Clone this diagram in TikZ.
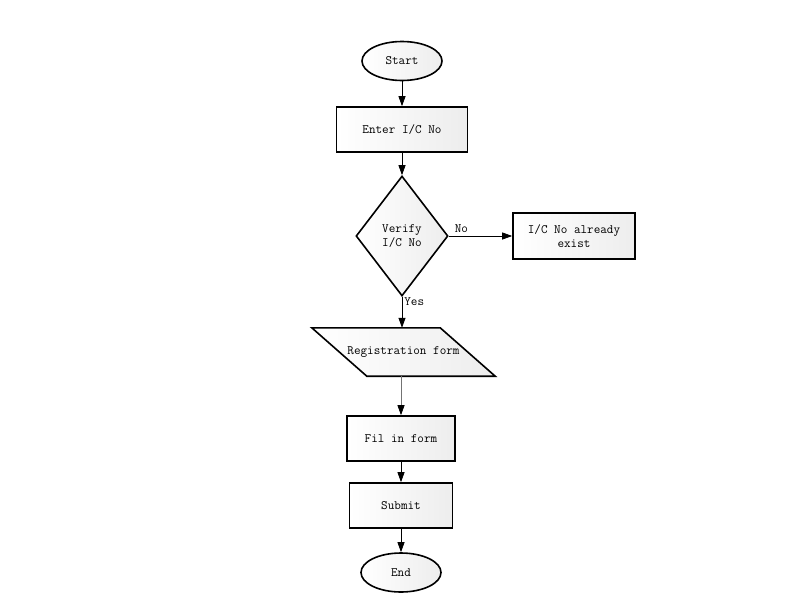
\documentclass[tikz,border=0pt]{standalone}
\usepackage{tikz}
\usetikzlibrary{shapes,arrows.meta,positioning}

\begin{document}
\begin{tikzpicture}[x=1pt,y=-1pt]
% Flow chart styles

   \tikzstyle{base} = [draw, line width=1.6pt, inner sep=0pt, left color=white, right color=black!7, font={\fontsize{12.8}{14.5}\selectfont\ttfamily}, align=center]
   \tikzstyle{term} = [base, shape=ellipse, minimum width=80, minimum height=39]
   \tikzstyle{proc} = [base, shape=rectangle, minimum height=45]
   \tikzstyle{decide} = [base, shape=diamond, minimum width=92, minimum height=120]
   \tikzstyle{io} = [font={\fontsize{12.8}{14.5}\selectfont\ttfamily}, shape=rectangle, inner sep=0pt, minimum width=128, minimum height=48]
   \tikzstyle{arr} = [draw, line width=0.8pt, -{Triangle[length=10pt,width=7pt]}]
   \tikzstyle{lbl} = [font={\fontsize{12.8}{14.5}\selectfont\ttfamily}]

\useasboundingbox (0,0) rectangle (800,600);

\node[term] (start) at (402,61) {Start};
\node[proc, minimum width=131] (enter) at (402,129.5) {Enter I/C No};
\node[decide] (verify) at (402,236) {Verify\\I/C No};
\node[proc, minimum width=122, minimum height=46] (exists) at (574,236) {I/C No already\\exist};

% parallelogram drawn round a plain node
\node[io] (regform) at (403.5,352) {};
\draw[base] ([xshift=-27.5]regform.north west) -- ([xshift=-27.5]regform.north east)
   -- ([xshift=27.5]regform.south east) -- ([xshift=27.5]regform.south west) -- cycle;
\node[io] at (regform) {Registration form};

\node[proc, minimum width=108] (fillin) at (401,438.5) {Fil in form};
\node[proc, minimum width=103] (submit) at (401,505.5) {Submit};
\node[term] (stop) at (401,572.5) {End};

\draw[arr] (start) -- (enter);
\draw[arr] (enter) -- (verify);
\draw[arr] (verify) -- node[lbl, above, pos=0.2, inner sep=3pt] {No} (exists);
\draw[arr] (verify.south) -- node[lbl, right, pos=0.15, inner sep=2pt] {Yes} (verify.south |- regform.north);
\draw[arr, draw=black!55, -{Triangle[length=10pt,width=7pt,color=black]}] (fillin.north |- regform.south) -- (fillin);
\draw[arr] (fillin) -- (submit);
\draw[arr] (submit) -- (stop);
\end{tikzpicture}
\end{document}
